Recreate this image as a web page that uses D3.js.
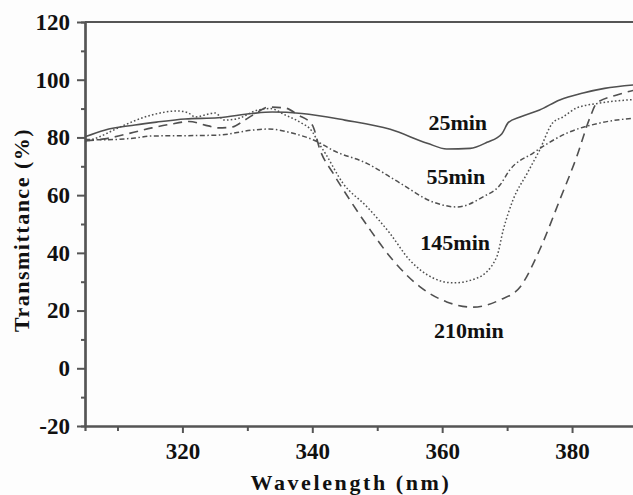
<!DOCTYPE html>
<html>
<head>
<meta charset="utf-8">
<script src="https://cdn.jsdelivr.net/npm/d3@7"></script>
<style>
  html, body { margin: 0; padding: 0; background: #fdfdfd; }
  svg { display: block; }
  text { font-family: "Liberation Serif", "Times New Roman", serif; font-weight: bold; fill: #111; }
</style>
</head>
<body>
<svg id="chart" width="633" height="495"></svg>
<script>
// ---- data ----
const xTicks = [320, 340, 360, 380];
const xMinorTicks = [310, 330, 350, 370, 390];
const yTicks = [-20, 0, 20, 40, 60, 80, 100, 120];
const yMinorTicks = [-10, 10, 30, 50, 70, 90, 110];

const wl25 = [305, 308, 312.7, 316, 320.4, 325.5, 330.7, 333.8, 338.4, 345, 352, 357.7, 360.7, 364.3, 366.9, 369.2, 370.2, 372, 375, 378.1, 381.7, 385, 390];
const t25  = [80.2, 82.5, 84.3, 85.3, 86.4, 86.8, 88.3, 88.8, 88.3, 86, 82.8, 78, 76, 76.2, 78.3, 81.3, 85.2, 87.1, 89.5, 93, 95.4, 97, 98.3];

const wl55 = [305, 308, 312.7, 315.3, 320.4, 325.5, 330.7, 333.2, 336.9, 340.9, 343.2, 348.4, 353.5, 358.6, 362.3, 366.3, 368.9, 370.4, 374, 379.2, 384.3, 390];
const t55  = [79.3, 79.2, 79.8, 80.5, 80.6, 80.8, 82.5, 82.9, 81.5, 78.4, 75.5, 71, 64.2, 57.6, 55.9, 59.4, 63.5, 68.7, 74.6, 81.5, 85, 86.8];

const wl145 = [305, 307, 310.1, 315.3, 319.3, 320.9, 322, 323.5, 325, 326.5, 328.5, 331.6, 333.5, 335.8, 338, 340, 341, 342, 344.7, 348.4, 351.9, 355, 358.6, 361.7, 365.4, 368.4, 369.4, 370.9, 373.1, 375, 377, 378.6, 380.7, 384.3, 390];
const t145  = [78.5, 80, 83.3, 87.8, 89.2, 88.5, 87.1, 87.8, 88.5, 86, 86.5, 89.5, 90, 87.8, 85.4, 82, 78, 74.5, 64.2, 56, 46.9, 37.5, 31.3, 29.6, 31.3, 38.6, 47.9, 58.3, 67.6, 75.6, 85, 87.1, 90.2, 91.9, 93.2];

const wl210 = [305, 308, 312, 315.3, 318, 321, 324, 325.5, 327.6, 329.6, 331.6, 333.2, 335.8, 337.8, 340, 341.2, 343.2, 345.8, 348.9, 352.4, 356.6, 360.7, 364.7, 368.9, 372, 375, 378.1, 380.7, 382.8, 383.8, 386.9, 390];
const t210  = [78.8, 79.5, 81.5, 83.3, 84.5, 85.5, 84, 83.3, 83.6, 86, 88.8, 90.5, 90.2, 87.8, 84.3, 75.6, 67.6, 58.3, 48, 37.5, 28.2, 23, 21.2, 23.7, 28.2, 41, 58.3, 73.2, 87.1, 91.9, 94.7, 96.6];

const seriesNames = ["25min", "55min", "145min", "210min"];
const labelWl = [362.4, 362.1, 362.0, 364.1];
const labelT = [85.3, 66.6, 43.8, 13.3];

// ---- chart ----
const svg = d3.select("#chart");
const x = d3.scaleLinear().domain([305, 390]).range([85, 637]);
const y = d3.scaleLinear().domain([-20, 120]).range([426, 22]);

const axisColor = "#555";

// top frame line
svg.append("line")
  .attr("x1", x(305)).attr("x2", x(390))
  .attr("y1", y(120)).attr("y2", y(120))
  .attr("stroke", axisColor).attr("stroke-width", 2);

const fmt = d => String(d);

// minor ticks
svg.append("g").attr("transform", `translate(0,${y(-20)})`)
  .call(d3.axisBottom(x).tickValues(xMinorTicks).tickSize(5).tickFormat(""));
svg.append("g").attr("transform", `translate(0,${y(-20)})`)
  .call(d3.axisBottom(x).tickValues(xTicks).tickSize(7).tickPadding(10).tickSizeOuter(0).tickFormat(fmt));

svg.append("g").attr("transform", `translate(${x(305)},0)`)
  .call(d3.axisLeft(y).tickValues(yMinorTicks).tickSize(4).tickFormat(""));
svg.append("g").attr("transform", `translate(${x(305)},0)`)
  .call(d3.axisLeft(y).tickValues(yTicks).tickSize(8).tickPadding(7).tickSizeOuter(0).tickFormat(fmt));

svg.selectAll(".domain").attr("stroke", axisColor).attr("stroke-width", 2.2);
svg.selectAll(".tick line").attr("stroke", axisColor).attr("stroke-width", 2);
svg.selectAll(".tick text").attr("fill", "#111").style("font-size", "23px")
  .style("font-family", "'Liberation Serif', 'Times New Roman', serif").style("font-weight", "bold");

// axis titles
svg.append("text")
  .attr("x", 351).attr("y", 490)
  .attr("text-anchor", "middle")
  .style("font-size", "22px").style("letter-spacing", "2.6px")
  .text("Wavelength (nm)");

svg.append("text")
  .attr("transform", `translate(29,230) rotate(-90)`)
  .attr("text-anchor", "middle")
  .style("font-size", "22px").style("letter-spacing", "1.5px")
  .text("Transmittance (%)");

// series
const line = d3.line().x(d => x(d[0])).y(d => y(d[1])).curve(d3.curveMonotoneX);
const zipS = (a, b) => a.map((v, i) => [v, b[i]]);
const series = [
  { data: zipS(wl25, t25), dash: null, w: 1.6 },
  { data: zipS(wl55, t55), dash: "5,2.5,1.5,2.5", w: 1.5 },
  { data: zipS(wl145, t145), dash: "1.6,2.2", w: 1.5 },
  { data: zipS(wl210, t210), dash: "9,6", w: 1.6 }
];

svg.append("defs").append("clipPath").attr("id", "clip")
  .append("rect").attr("x", x(305)).attr("y", y(120)).attr("width", x(390) - x(305)).attr("height", y(-20) - y(120));

const gl = svg.append("g").attr("clip-path", "url(#clip)");
series.forEach(s => {
  gl.append("path")
    .datum(s.data)
    .attr("d", line)
    .attr("fill", "none")
    .attr("stroke", "#505050")
    .attr("stroke-width", s.w)
    .attr("stroke-dasharray", s.dash);
});

// series labels
seriesNames.forEach((n, i) => {
  svg.append("text")
    .attr("x", x(labelWl[i])).attr("y", y(labelT[i]))
    .attr("text-anchor", "middle").attr("dy", "0.35em")
    .style("font-size", "22px")
    .text(n);
});
</script>
</body>
</html>
